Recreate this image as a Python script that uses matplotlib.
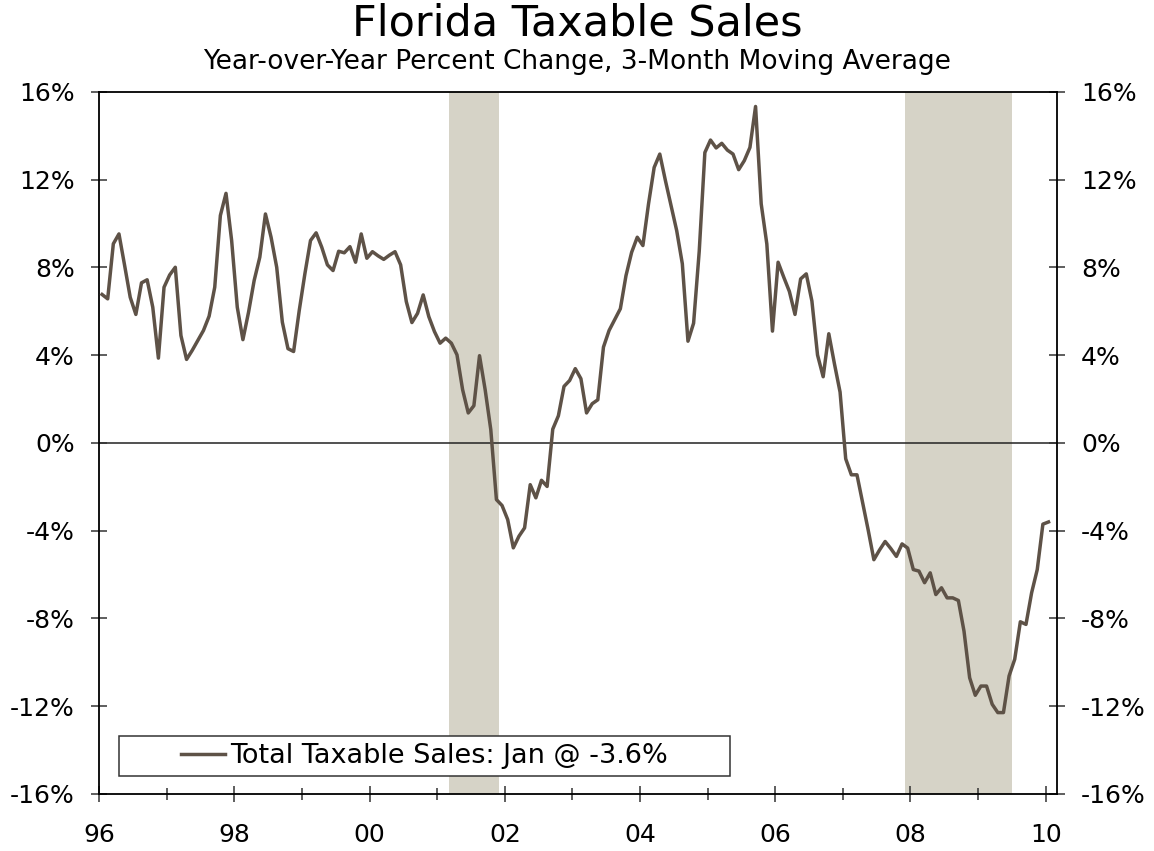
import matplotlib
matplotlib.use('Agg')
import matplotlib.pyplot as plt
from matplotlib.path import Path
import numpy as np

# Datos: variacion anual %, promedio movil 3 meses, ene-1996 a ene-2010
start_year = 1996
sales = [
    6.77, 6.57, 9.08, 9.53, 8.10, 6.64, 5.86, 7.30, 7.44, 6.19, 3.87, 7.10,   # 1996
    7.66, 8.01, 4.90, 3.81, 4.22, 4.67, 5.13, 5.78, 7.10, 10.37, 11.38, 9.23,  # 1997
    6.19, 4.71, 5.96, 7.41, 8.47, 10.44, 9.38, 8.01, 5.51, 4.30, 4.17, 6.04,   # 1998
    7.71, 9.23, 9.58, 8.92, 8.12, 7.86, 8.74, 8.67, 8.95, 8.24, 9.53, 8.42,    # 1999
    8.72, 8.53, 8.37, 8.56, 8.72, 8.12, 6.45, 5.49, 5.91, 6.75, 5.76, 5.08,    # 2000
    4.55, 4.78, 4.55, 4.02, 2.43, 1.37, 1.70, 3.98, 2.43, 0.61, -2.58, -2.85,  # 2001
    -3.49, -4.78, -4.25, -3.87, -1.90, -2.50, -1.70, -1.98, 0.63, 1.24, 2.58, 2.85,  # 2002
    3.39, 2.93, 1.37, 1.79, 1.97, 4.37, 5.13, 5.62, 6.12, 7.63, 8.69, 9.38,    # 2003
    9.00, 10.90, 12.56, 13.17, 11.96, 10.82, 9.68, 8.17, 4.64, 5.46, 8.74, 13.24,  # 2004
    13.81, 13.45, 13.66, 13.35, 13.17, 12.46, 12.87, 13.47, 15.34, 10.90, 9.07, 5.10,  # 2005
    8.24, 7.56, 6.91, 5.86, 7.48, 7.71, 6.47, 4.01, 3.02, 4.98, 3.61, 2.32,    # 2006
    -0.72, -1.45, -1.45, -2.72, -3.98, -5.32, -4.88, -4.49, -4.81, -5.17, -4.60, -4.79,  # 2007
    -5.77, -5.84, -6.37, -5.92, -6.91, -6.60, -7.06, -7.06, -7.18, -8.58, -10.70, -11.50,  # 2008
    -11.08, -11.08, -11.91, -12.29, -12.29, -10.62, -9.86, -8.15, -8.27, -6.83, -5.77, -3.70,  # 2009
    -3.60,  # 2010
]
fechas = start_year + (np.arange(len(sales)) + 0.5) / 12

# recesiones (inicio, fin)
recesiones = [(2001 + 2 / 12, 2001 + 11 / 12), (2007 + 11 / 12, 2009 + 6 / 12)]

y_ticks = [16, 12, 8, 4, 0, -4, -8, -12, -16]
x_major = list(range(1996, 2011, 2))
x_minor = list(range(1997, 2010, 2))
x_labels = ['96', '98', '00', '02', '04', '06', '08', '10']
etiqueta = 'Total Taxable Sales: Jan @ -3.6%'

color_linea = '#5e5247'
color_sombra = '#d6d3c7'

#%%
fig = plt.figure(figsize=(11.54, 8.51), dpi=100)
ax = fig.add_axes([0.0860, 0.0670, 0.8297, 0.8249])

for ini, fin in recesiones:
    ax.axvspan(ini, fin, color=color_sombra, lw=0, zorder=0)

ax.axhline(0, color='#222222', lw=1.1, zorder=1)
ax.plot(fechas, sales, color=color_linea, lw=2.5, zorder=3, label=etiqueta)

# Ejes
ax.set_xlim(1996, 2010.163)
ax.set_ylim(-16, 16)
ax.set_yticks(y_ticks)
ax.set_yticklabels([f'{v}%' for v in y_ticks])
ax.set_xticks(x_major)
ax.set_xticklabels(x_labels)
ax.set_xticks(x_minor, minor=True)

for s in ax.spines.values():
    s.set_linewidth(1.3)
    s.set_color('black')

ax.tick_params(axis='y', which='both', direction='inout', length=12, width=1.1,
               left=True, right=True, labelleft=True, labelright=True,
               labelsize=18, pad=11.5, color='#333333')
ax.tick_params(axis='x', which='major', direction='inout', length=12, width=1.1,
               labelsize=18, pad=15, color='#333333')
ax.tick_params(axis='x', which='minor', direction='inout', length=9, width=1.1,
               color='#333333')

# Leyenda
leg = ax.legend(loc='lower left', bbox_to_anchor=(0.0785, 0.0256), borderaxespad=0,
                fontsize=19.5, frameon=True, fancybox=False, borderpad=0.25,
                handlelength=1.6, handletextpad=0.2)
leg.get_frame().set_edgecolor('#333333')
leg.get_frame().set_linewidth(1.1)
leg.get_frame().set_alpha(1)


def marco_ancho(x0, y0, width, height, mutation_size):
    dx = 2.05 * mutation_size
    x0 = x0 - dx
    width = width + 2 * dx
    return Path([(x0, y0), (x0 + width, y0), (x0 + width, y0 + height),
                 (x0, y0 + height), (x0, y0)], closed=True)


leg.get_frame().set_boxstyle(marco_ancho)

# Titulo
fig.text(0.5, 0.9577, 'Florida Taxable Sales', ha='center', va='baseline', fontsize=31)
fig.text(0.5, 0.9185, 'Year-over-Year Percent Change, 3-Month Moving Average',
         ha='center', va='baseline', fontsize=19)

fig.savefig('out.png', dpi=100)
